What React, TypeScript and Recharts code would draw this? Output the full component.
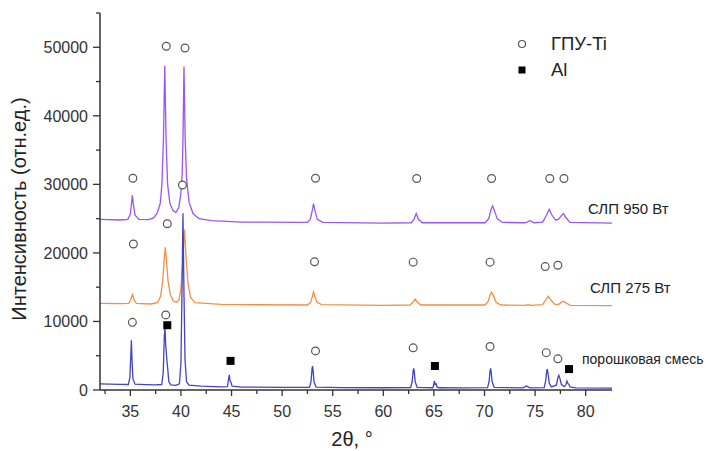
import { ComposedChart, Line, Scatter, XAxis, YAxis } from 'recharts'

// XRD patterns, [2θ, intensity]
const powderMix: [number, number][] = [
  [32.0, 900], [33.0, 860], [34.0, 820], [34.8, 800], [34.95, 1800], [35.05, 5200], [35.1, 7250],
  [35.15, 5000], [35.25, 1700], [35.45, 850], [36.5, 780], [37.5, 740], [38.1, 800], [38.25, 2500],
  [38.35, 7500], [38.42, 9100], [38.5, 6500], [38.62, 4200], [38.7, 3000], [38.8, 1200], [39.0, 750],
  [39.5, 680], [39.85, 900], [40.0, 4000], [40.1, 14000], [40.2, 25800], [40.3, 14000], [40.4, 4500],
  [40.55, 1200], [40.8, 700], [42.0, 560], [44.0, 470], [44.6, 500], [44.7, 1500], [44.78, 2200],
  [44.86, 1300], [44.95, 1100], [45.05, 550], [46.0, 430], [50.0, 380], [52.7, 380], [52.85, 1200],
  [52.95, 3000], [53.0, 3500], [53.05, 3000], [53.15, 1200], [53.35, 420], [56.0, 360], [60.0, 330],
  [62.7, 340], [62.85, 1200], [62.95, 2800], [63.0, 3150], [63.05, 2800], [63.15, 1200], [63.35, 380],
  [64.9, 330], [65.0, 900], [65.05, 1350], [65.12, 800], [65.22, 900], [65.3, 450], [65.5, 330],
  [68.0, 320], [70.3, 340], [70.45, 1200], [70.55, 2800], [70.6, 3150], [70.65, 2800], [70.75, 1200],
  [70.95, 380], [73.8, 320], [74.0, 450], [74.15, 600], [74.3, 450], [74.5, 320], [75.9, 350],
  [76.05, 1400], [76.15, 2800], [76.2, 3050], [76.25, 2700], [76.4, 1000], [76.6, 450], [77.1, 700],
  [77.25, 1800], [77.35, 2150], [77.45, 1700], [77.6, 800], [77.9, 500], [78.05, 800], [78.15, 1300],
  [78.22, 1000], [78.35, 800], [78.45, 450], [79.0, 300], [82.6, 280],
]

const slp275: [number, number][] = [
  [32.0, 12650], [34.0, 12600], [34.85, 12650], [35.02, 13100], [35.2, 13950], [35.38, 13100],
  [35.6, 12650], [37.0, 12550], [37.7, 12750], [38.0, 13700], [38.2, 16000], [38.33, 18800],
  [38.45, 20800], [38.57, 18800], [38.72, 16000], [38.95, 13900], [39.25, 13000], [39.55, 12800],
  [39.8, 13100], [40.0, 14800], [40.15, 18000], [40.35, 23400], [40.52, 19000], [40.7, 15500],
  [40.95, 13500], [41.4, 12750], [44.0, 12500], [46.0, 12450], [52.5, 12400], [52.8, 12750],
  [52.98, 13600], [53.1, 14300], [53.24, 13600], [53.45, 12800], [53.9, 12450], [60.0, 12350],
  [62.65, 12400], [62.92, 12800], [63.15, 13250], [63.38, 12800], [63.7, 12400], [70.05, 12400],
  [70.35, 12900], [70.57, 13950], [70.7, 14250], [70.87, 13800], [71.15, 12800], [71.6, 12400],
  [74.0, 12350], [74.3, 12450], [74.6, 12350], [75.75, 12450], [76.08, 13200], [76.3, 13700],
  [76.52, 13200], [76.95, 12500], [77.35, 12500], [77.62, 12850], [77.8, 12950], [78.02, 12750],
  [78.45, 12350], [82.6, 12300],
]

const slp950: [number, number][] = [
  [32.0, 24900], [34.0, 24800], [34.75, 24900], [34.98, 25600], [35.1, 27000], [35.2, 28400],
  [35.3, 27000], [35.47, 25500], [35.85, 24900], [36.8, 24850], [37.3, 25100], [37.65, 25800],
  [37.95, 27200], [38.12, 30000], [38.27, 36500], [38.4, 47300], [38.53, 36500], [38.68, 30000],
  [38.9, 27300], [39.2, 26200], [39.5, 25900], [39.78, 26600], [39.98, 28500], [40.12, 31500],
  [40.2, 36500], [40.3, 47200], [40.42, 36500], [40.55, 31000], [40.8, 27400], [41.2, 25700],
  [41.8, 25000], [43.0, 24700], [46.0, 24500], [52.5, 24450], [52.78, 24900], [52.98, 26200],
  [53.1, 27200], [53.24, 26200], [53.48, 24900], [54.0, 24450], [60.0, 24350], [62.75, 24400],
  [63.03, 24900], [63.25, 25750], [63.47, 24900], [63.85, 24400], [70.05, 24400], [70.42, 25000],
  [70.64, 26300], [70.8, 26850], [70.97, 26200], [71.25, 25000], [71.75, 24450], [74.0, 24400],
  [74.5, 24700], [74.9, 24400], [75.75, 24500], [76.12, 25500], [76.4, 26350], [76.63, 25600],
  [77.0, 24800], [77.3, 24900], [77.58, 25400], [77.8, 25750], [78.02, 25200], [78.45, 24450],
  [82.6, 24350],
]

// phase markers
const tiMarks: [number, number][] = [
  [35.25, 30900], [38.55, 50150], [40.4, 49900], [53.3, 30900], [63.3, 30850], [70.7, 30850],
  [76.45, 30850], [77.85, 30850],
  [35.3, 21300], [38.65, 24250], [40.15, 29900], [53.2, 18700], [62.95, 18650], [70.55, 18650],
  [76.0, 18000], [77.25, 18200],
  [35.2, 9870], [38.5, 10950], [53.3, 5700], [62.95, 6150], [70.55, 6350], [76.1, 5450], [77.25, 4550],
]
const alMarks: [number, number][] = [[38.65, 9450], [44.9, 4250], [65.1, 3500], [78.35, 3050]]

const xTicks = [32.5, 35, 37.5, 40, 42.5, 45, 47.5, 50, 52.5, 55, 57.5, 60, 62.5, 65, 67.5, 70, 72.5, 75, 77.5, 80]
const yTicks = [0, 5000, 10000, 15000, 20000, 25000, 30000, 35000, 40000, 45000, 50000, 55000]

const toPoints = (rows: [number, number][]) => rows.map(([x, y]) => ({ x, y }))

const FONT = '"Liberation Sans", Arial, sans-serif'
const INK = '#333'

function XTick({ x, y, payload }: any) {
  const major = payload.value % 5 === 0
  return (
    <g>
      <line x1={x} x2={x} y1={y} y2={y + (major ? 6 : 4)} stroke={INK} strokeWidth={1.3} />
      {major && (
        <text x={x} y={y + 27} textAnchor="middle" fontSize={16} fill={INK} fontFamily={FONT}>
          {payload.value}
        </text>
      )}
    </g>
  )
}

function YTick({ x, y, payload }: any) {
  const major = payload.value % 10000 === 0
  return (
    <g>
      <line x1={x} x2={x - (major ? 7 : 4)} y1={y} y2={y} stroke={INK} strokeWidth={1.3} />
      {major && (
        <text x={x - 12} y={y + 6} textAnchor="end" fontSize={16} fill={INK} fontFamily={FONT}>
          {payload.value}
        </text>
      )}
    </g>
  )
}

const circleShape = (p: any) => (
  <circle cx={p.cx} cy={p.cy} r={3.9} fill="#fff" stroke="#555" strokeWidth={1.2} />
)
const squareShape = (p: any) => (
  <rect x={p.cx - 4} y={p.cy - 4} width={8} height={8} fill="#000" />
)

const label = (left: number, top: number, size: number): React.CSSProperties => ({
  position: 'absolute',
  left,
  top,
  transform: 'translateY(-50%)',
  fontSize: size,
  fontFamily: FONT,
  color: '#222',
  whiteSpace: 'nowrap',
  lineHeight: 1,
})

export default function App() {
  return (
    <div style={{ position: 'relative', width: 706, height: 451, background: '#fff' }}>
      <style>{'body{margin:0}'}</style>
      <ComposedChart width={706} height={451} margin={{ top: 13, right: 94, bottom: 0, left: 0 }}>
        <XAxis
          dataKey="x"
          type="number"
          domain={[32, 82.6]}
          ticks={xTicks}
          interval={0}
          allowDataOverflow
          height={61}
          tickSize={0}
          tickMargin={0}
          tickLine={false}
          tick={<XTick />}
          axisLine={{ stroke: INK, strokeWidth: 1.5 }}
        />
        <YAxis
          type="number"
          domain={[0, 55000]}
          ticks={yTicks}
          interval={0}
          allowDataOverflow
          width={100}
          tickSize={0}
          tickMargin={0}
          tickLine={false}
          tick={<YTick />}
          axisLine={{ stroke: INK, strokeWidth: 1.5 }}
        />
        <Line data={toPoints(slp950)} dataKey="y" type="linear" stroke="#9a55f2" strokeWidth={1.3} dot={false} isAnimationActive={false} />
        <Line data={toPoints(slp275)} dataKey="y" type="linear" stroke="#f59043" strokeWidth={1.3} dot={false} isAnimationActive={false} />
        <Line data={toPoints(powderMix)} dataKey="y" type="linear" stroke="#4343c6" strokeWidth={1.3} dot={false} isAnimationActive={false} />
        <Scatter data={toPoints(tiMarks)} dataKey="y" shape={circleShape} isAnimationActive={false} />
        <Scatter data={toPoints(alMarks)} dataKey="y" shape={squareShape} isAnimationActive={false} />
      </ComposedChart>

      <svg style={{ position: 'absolute', left: 0, top: 0 }} width={706} height={451} pointerEvents="none">
        <circle cx={522} cy={44} r={3.5} fill="#fff" stroke="#555" strokeWidth={1.2} />
        <rect x={518.5} y={66.5} width={7} height={7} fill="#000" />
      </svg>
      <div style={label(551, 44, 18.5)}>ГПУ-Ti</div>
      <div style={label(551, 70, 18.5)}>Al</div>
      <div style={label(588, 208, 15)}>СЛП 950 Вт</div>
      <div style={label(590, 287, 15)}>СЛП 275 Вт</div>
      <div style={label(582, 359, 14)}>порошковая смесь</div>
      <div style={{ ...label(352, 439, 20), transform: 'translate(-50%, -50%)' }}>2θ, °</div>
      <div style={{ ...label(19, 209, 20), transform: 'translate(-50%, -50%) rotate(-90deg)' }}>
        Интенсивность (отн.ед.)
      </div>
    </div>
  )
}
